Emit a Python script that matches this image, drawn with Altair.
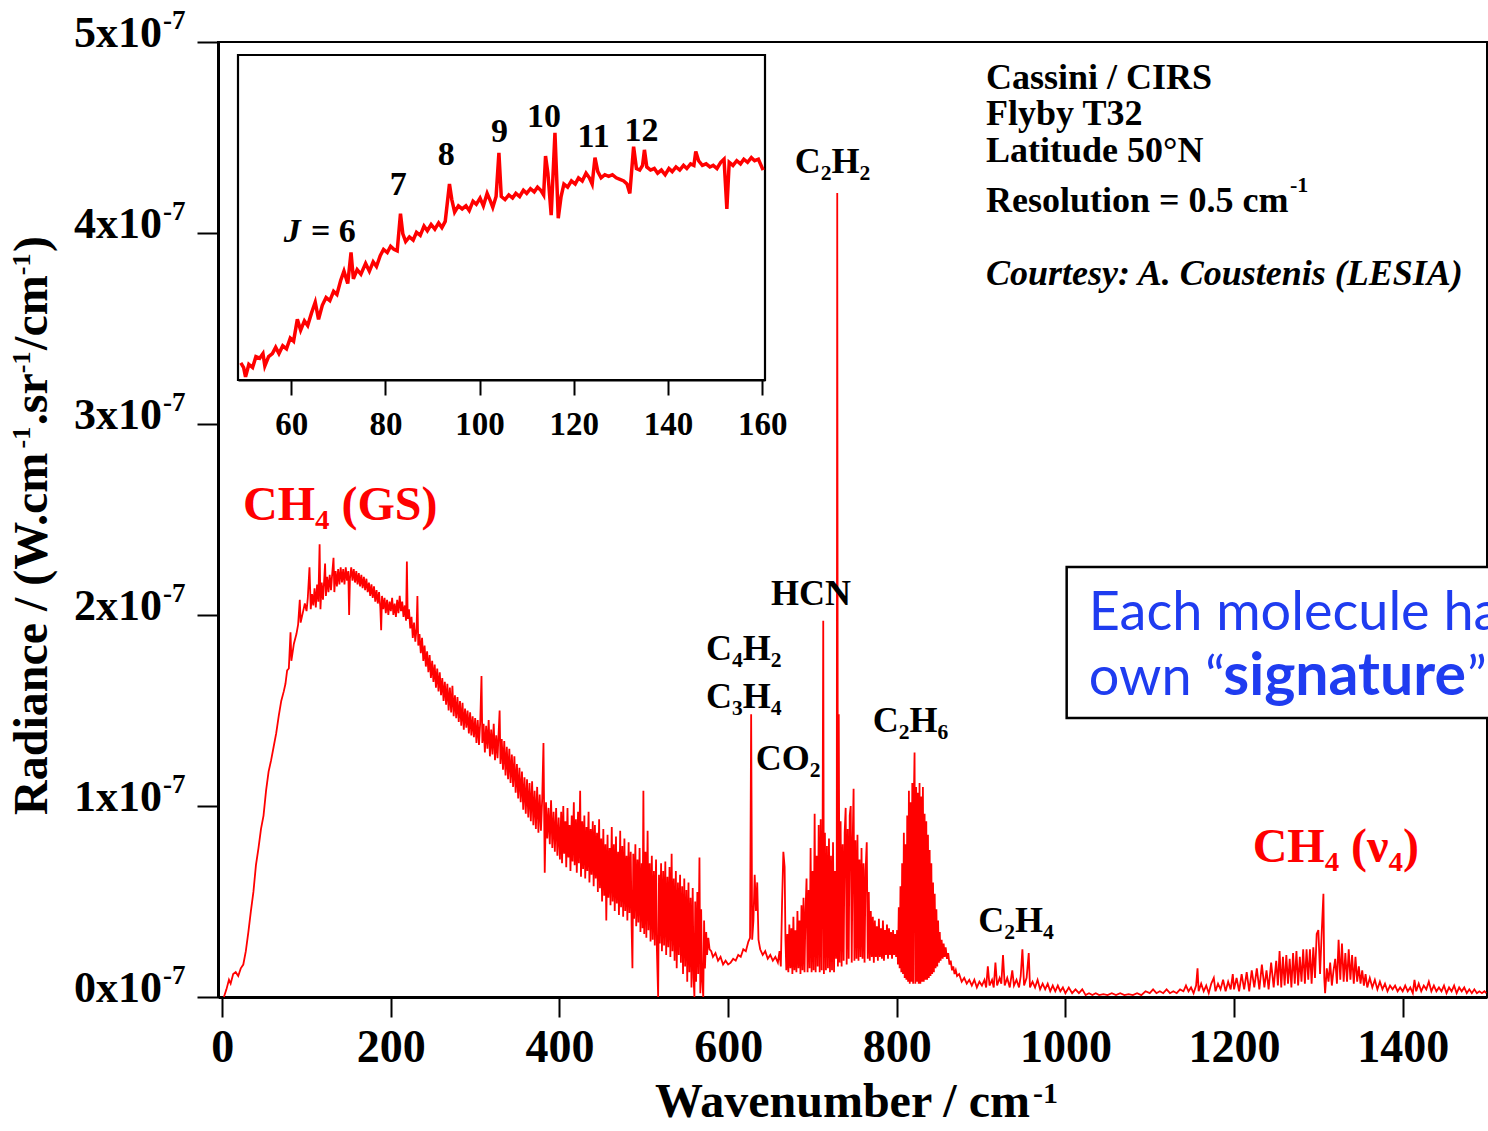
import altair as alt
import pandas as pd

# ---------------- data (wavenumber in cm-1, radiance in units of 1e-7) ----------------
GS_RISE = [(2,0.00),(5,0.04),(8,0.09),(10,0.07),(13,0.12),(16,0.13),(19,0.11),(22,0.15),(25,0.17),
           (28,0.24),(31,0.34),(34,0.45),(37,0.55),(40,0.69),(43,0.78),(46,0.88),(49,0.95),(52,1.08),
           (55,1.18),(58,1.24),(61,1.31),(64,1.38),(67,1.47),(70,1.55),(73,1.60),(75,1.64),(77,1.71),
           (79,1.72),(81,1.91),(82,1.76),(85,1.85),(88,1.90),(90,1.95),(92,2.08),(93,1.96),(96,2.02),(98,2.06)]
GS_PEAK = [(100,2.02),(101.5,2.09),(103.5,2.25),(105,2.03),(106.5,2.11),(108,2.05),(109.5,2.14),(111,2.04),
           (112.5,2.16),(114,2.07),(115.5,2.37),(116.5,2.03),(118,2.17),(119.5,2.08),(121,2.19),(122,2.27),
           (123,2.10),(124.5,2.20),(126,2.12),(127.5,2.21),(129,2.13),(130.5,2.22),(132,2.30),(133,2.12),
           (134.5,2.23),(136,2.15),(137.5,2.24),(139,2.16),(140.5,2.25),(142,2.17),(143.5,2.24),(145,2.16),
           (146.5,2.25),(148,2.18),(149.5,2.23),(150.5,2.00),(151.5,2.19),(153,2.25),(154.5,2.18),(156,2.24),
           (157.5,2.17),(159,2.23),(160.5,2.16),(162,2.22),(163.5,2.15),(165,2.21),(166.5,2.14),(168,2.20),
           (169.5,2.13),(171,2.19),(172.5,2.12),(174,2.17),(175.5,2.10),(177,2.16),(178.5,2.09),(180,2.15),
           (181.5,2.07),(183,2.13),(184.5,2.06),(186,2.12),(187.5,2.04),(188.5,1.92),(189.5,2.10),(191,2.03),
           (192.5,2.09),(194,2.01),(195.5,2.08),(197,2.00),(198.5,2.07),(200,2.02),(201.5,2.09),(203,2.00),
           (204.5,2.06),(206,1.99),(207.5,2.08),(209,2.01),(210.5,2.10),(212,2.02),(213.5,2.07),(215,1.99),
           (216.5,2.05),(218,1.97),(219,2.28),(220,1.98),(221.5,2.03),(223,1.93),(224.5,1.99),(226,1.88),
           (227.5,1.96),(229,1.86),(230.5,1.93),(231.5,2.10),(232.5,1.84),(234,1.90),(235.5,1.80),(237,1.88),
           (238.5,1.76),(240,1.84),(241.5,1.73),(243,1.81),(244.5,1.70),(246,1.79),(247.5,1.67),(249,1.76),
           (250.5,1.65),(252,1.74),(253.5,1.62),(255,1.72),(256.5,1.60),(258,1.70),(259.5,1.58),(261,1.67),
           (262.5,1.55),(264,1.65),(265.5,1.53),(267,1.64),(268.5,1.50),(270,1.62),(271.5,1.49),(273,1.63),
           (274.5,1.47),(276,1.58),(277.5,1.46),(279,1.57),(280.5,1.44),(282,1.55),(283.5,1.42),(285,1.54),
           (286.5,1.40),(288,1.51),(289.5,1.41),(291,1.50),(292.5,1.38),(294,1.49),(295.5,1.37),(297,1.47),
           (298.5,1.36)]
GS_TAIL = [(300,1.46),(301.5,1.33),(303,1.45),(304.5,1.32),(306,1.44),(307.5,1.68),(308.5,1.33),(310,1.43),
           (311.5,1.28),(313,1.42),(314.5,1.30),(316,1.45),(317.5,1.26),(319,1.40),(320.5,1.27),(322,1.43),
           (323.5,1.24),(325,1.37),(326.5,1.25),(328,1.40),(329,1.50),(330,1.22),(331.5,1.35),(333,1.19),
           (334.5,1.34),(336,1.16),(337.5,1.31),(339,1.14),(340.5,1.30),(342,1.12),(343.5,1.27),(345,1.10),
           (346.5,1.26),(348,1.07),(349.5,1.22),(351,1.04),(352.5,1.20),(354,1.02),(355.5,1.18),(357,0.98),
           (358.5,1.15),(360,0.96),(361.5,1.14),(363,0.94),(364.5,1.12),(366,0.92),(367.5,1.13),(369,0.90),
           (370.5,1.08),(372,0.88),(373.5,1.10),(375,0.86),(376.5,1.06),(378,0.87),(379.5,1.04),(381,1.33),
           (382.5,0.65),(384,1.02),(385.5,0.83),(387,0.99),(388.5,0.80),(390,1.03),(391.5,0.78),(393,0.97),
           (394.5,0.76),(396,0.99),(397.5,0.74),(399,0.94)]
NOISY = [(400.5,0.72),(402,0.97),(403,0.70),(404.5,1.00),(405.5,0.75),(407,0.92),(408,0.68),(409.5,0.99),
         (410.5,0.73),(412,0.90),(413,0.66),(414.5,0.95),(415.5,0.71),(417,1.02),(418,0.69),(419.5,0.93),
         (420.5,0.65),(422,0.97),(423,0.70),(424.5,1.08),(425.5,0.63),(427,0.92),(428,0.67),(429.5,0.95),
         (430.5,0.62),(432,0.89),(433,0.66),(434.5,0.97),(435.5,0.60),(437,0.88),(438,0.64),(439.5,0.92),
         (440.5,0.58),(442,0.90),(443,0.62),(444.5,0.86),(445.5,0.55),(447,0.93),(448,0.57),(449.5,0.83),
         (450.5,0.50),(452,0.88),(453,0.53),(454.5,0.80),(455.5,0.40),(457,0.85),(458,0.52),(459.5,0.78),
         (460.5,0.48),(462,0.89),(463,0.50),(464.5,0.80),(465.5,0.45),(467,0.84),(468,0.49),(469.5,0.76),
         (470.5,0.43),(472,0.87),(473,0.47),(474.5,0.79),(475.5,0.42),(477,0.83),(478,0.45),(479.5,0.74),
         (480.5,0.40),(482,0.81),(483,0.44),(484.5,0.76),(485.5,0.38),(486.5,0.15),(487.5,0.75),(488.5,0.41),
         (490,0.80),(491,0.37),(492.5,0.72),(493.5,0.39),(495,0.78),(496,0.34),(497.5,0.70),(498.5,0.36),
         (499.5,1.08),(500.5,0.33),(502,0.76),(503,0.31),(504.5,0.87),(505.5,0.35),(507,0.70),(508,0.29),
         (509.5,0.74),(510.5,0.30),(512,0.66),(513,0.27),(514.5,0.72),(515.5,0.25),(517,0.00),(518,0.64),
         (519,0.28),(520.5,0.70),(521.5,0.24),(523,0.66),(524,0.27),(525.5,0.71),(526.5,0.22),(528,0.63),
         (529,0.26),(530.5,0.68),(531.5,0.21),(533,0.75),(534,0.24),(535.5,0.62),(536.5,0.19),(538,0.66),
         (539,0.15),(540.5,0.60),(541.5,0.22),(543,0.64),(544,0.18),(545.5,0.58),(546.5,0.12),(548,0.62),
         (549,0.16),(550.5,0.56),(551.5,0.08),(553,0.60),(554,0.13),(555.5,0.52),(556.5,0.05),(558,0.57),
         (559,0.10),(560,0.00),(561,0.50),(562,0.08),(563.5,0.55),(564.5,0.12),(566,0.73),(567,0.02),
         (568,0.46),(569,0.10),(570.5,0.00),(571.5,0.40),(572.5,0.15),(574,0.34),(575,0.22),(576.5,0.31),
         (578,0.25)]
C4H2_REGION = [(580,0.24),(582,0.21),(585,0.23),(588,0.19),(591,0.21),(594,0.17),(597,0.19),(600,0.17),
               (603,0.18),(606,0.20),(609,0.19),(612,0.22),(615,0.21),(618,0.25),(621,0.24),(624,0.29),
               (626,0.31),(627.3,1.48),(628.5,0.30),(630,0.40),(631.5,0.64),(633,0.45),(634.5,0.60),
               (636,0.30),(638,0.25),(641,0.22),(644,0.24),(647,0.20),(650,0.22),(653,0.19),(656,0.21),
               (659,0.18),(661,0.24),(662.5,0.16)]
HCN_REGION = [(664,0.50),(665.5,0.76),(667,0.68),(668,0.30),(669,0.14),(670.2,0.33),(671.4,0.13),
              (672.6,0.38),(673.8,0.15),(675,0.36),(676.2,0.12),(677.4,0.42),(678.6,0.14),(679.8,0.35),
              (681,0.13),(682.2,0.45),(683.4,0.15),(684.6,0.40),(685.8,0.12),(687,0.48),(688.2,0.14),
              (689.4,0.52),(690.6,0.13),(691.8,0.45),(693,0.62),(694.2,0.13),(695.4,0.56),(696.6,0.15),
              (697.8,0.78),(699,0.13),(700.2,0.66),(701.4,0.14),(702.6,0.96),(703.8,0.13),(705,0.74),
              (706.2,0.16),(707.4,0.90),(708.6,0.13),(709.8,0.93),(711,0.14),(712,0.78),(712.8,1.97),
              (713.6,0.12),(714.8,0.86),(716,0.14),(717.2,0.79),(718.4,0.15),(719.6,0.83),(720.8,0.13),
              (722,0.74),(723.2,0.14),(724.4,0.81),(725.6,0.13),(726.8,0.66),(728,0.20),(728.8,0.50),
              (729.4,4.21),(730.2,0.16),(731.2,1.48),(732.2,0.18),(733.4,0.92),(734.6,0.16),(735.8,0.80),
              (737,0.19),(738.2,0.86),(739.4,0.99),(740.6,0.17),(741.8,0.88),(743,0.20),(744.2,0.95),
              (745.4,1.00),(746.6,0.18),(747.8,0.84),(748.8,1.09),(749.8,0.19),(751,0.82),(752.2,0.20),
              (753.4,0.85),(754.6,0.19),(755.8,0.72),(757,0.21),(758.2,0.78),(759.4,0.20),(760.6,0.70),
              (761.8,0.18),(763,0.66),(764.4,0.81),(765.6,0.20),(766.8,0.55),(768,0.19),(769.2,0.45),
              (770.4,0.21),(771.6,0.42),(772.8,0.18),(774,0.40),(775.2,0.21),(776.4,0.37),(777.6,0.19),
              (778.8,0.41),(780,0.21),(781.2,0.36),(782.4,0.20),(783.6,0.40),(784.8,0.19),(786,0.35),
              (787.2,0.22),(788.4,0.38),(789.6,0.20),(790.8,0.36),(792,0.22),(793.2,0.34),(794.4,0.20),
              (795.6,0.35),(796.8,0.22),(798,0.33),(799.2,0.21)]
C2H6_REGION = [(800.4,0.35),(801.4,0.17),(802.4,0.47),(803.4,0.15),(804.4,0.58),(805.4,0.13),(806.4,0.70),
               (807.4,0.12),(808.4,0.86),(809.4,0.10),(810.4,0.80),(811.4,0.09),(812.4,0.95),(813.4,0.08),
               (814.4,1.08),(815.4,0.07),(816.4,1.02),(817.4,0.08),(818.4,1.12),(819.4,0.07),(820.3,1.05),
               (821.1,1.28),(822,0.07),(823,1.10),(824,0.08),(825,1.07),(826,0.07),(827,1.12),(828,0.07),
               (829,1.05),(830,0.08),(831,1.10),(832,0.08),(833,0.96),(834,0.09),(835,0.92),(836,0.09),
               (837,0.85),(838,0.10),(839,0.77),(840,0.11),(841,0.70),(842,0.12),(843,0.60),(844,0.13),
               (845,0.54),(846,0.15),(847,0.46),(848,0.16),(849,0.40),(850,0.18),(851,0.34),(852,0.19),
               (853.2,0.30),(854.4,0.20),(855.6,0.28),(856.8,0.21),(858,0.26),(859.5,0.20),(861,0.23),
               (862.5,0.17),(864,0.19),(865.5,0.14),(867,0.16),(868.5,0.12),(870,0.14),(871.5,0.11)]
C2H4_REGION = [(874,0.12),(877,0.08),(880,0.10),(883,0.07),(886,0.09),(889,0.06),(892,0.09),(895,0.05),
               (898,0.08),(901,0.06),(904,0.09),(906,0.05),(908,0.16),(910,0.06),(913,0.09),(915,0.05),
               (917,0.18),(919,0.06),(922,0.10),(924,0.07),(926,0.22),(928,0.06),(931,0.10),(934,0.05),
               (937,0.14),(939,0.06),(942,0.09),(945,0.05),(947,0.11),(949,0.25),(951,0.06),(954,0.10),
               (956.5,0.23),(958,0.05),(961,0.08),(964,0.05),(967,0.09),(970,0.04),(973,0.07),(976,0.04),
               (979,0.07),(982,0.03),(985,0.06),(988,0.03),(991,0.06),(994,0.03),(997,0.05),(1000,0.02),
               (1004,0.05),(1008,0.02),(1012,0.04),(1016,0.02),(1020,0.04),(1024,0.01),(1028,0.02),
               (1032,0.01),(1036,0.02),(1040,0.01),(1045,0.015),(1050,0.01),(1055,0.02),(1060,0.01),
               (1065,0.02),(1070,0.01),(1075,0.015),(1080,0.01),(1085,0.02),(1090,0.01),(1095,0.03),
               (1100,0.02),(1104,0.04),(1108,0.02),(1112,0.03),(1116,0.02),(1120,0.04),(1124,0.02),
               (1128,0.03),(1132,0.02),(1136,0.04),(1140,0.03)]
CH4_V4_REGION = [(1143,0.06),(1146,0.03),(1149,0.05),(1152,0.02),(1155,0.06),(1156.7,0.15),(1158,0.03),
                 (1161,0.07),(1164,0.03),(1167,0.06),(1170,0.02),(1173,0.07),(1176,0.10),(1178,0.03),
                 (1181,0.07),(1184,0.04),(1187,0.09),(1190,0.03),(1193,0.08),(1196,0.04),(1198.5,0.12),
                 (1200,0.04),(1203,0.10),(1206,0.03),(1209,0.12),(1212,0.04),(1215,0.13),(1218,0.03),
                 (1221,0.14),(1224,0.05),(1227,0.15),(1230,0.04),(1233,0.17),(1236,0.05),(1238.5,0.14),
                 (1241,0.04),(1244,0.18),(1247,0.05),(1250,0.19),(1252,0.06),(1254,0.24),(1256,0.05),
                 (1258,0.21),(1260,0.06),(1262,0.22),(1264,0.07),(1266,0.20),(1268,0.05),(1270,0.23),
                 (1272,0.07),(1274,0.24),(1276,0.06),(1278,0.21),(1280,0.08),(1282,0.25),(1284,0.07),
                 (1286,0.25),(1288,0.09),(1290,0.25),(1292,0.07),(1294,0.26),(1296,0.10),(1298,0.33),
                 (1300,0.35),(1302,0.12),(1304,0.34),(1306,0.54),(1307,0.10),(1308,0.02),(1310,0.15),
                 (1312,0.08),(1314,0.18),(1316,0.06),(1318,0.14),(1320,0.20),(1322,0.07),(1324,0.30),
                 (1326,0.09),(1328,0.28),(1330,0.08),(1332,0.23),(1334,0.08),(1336,0.25),(1338,0.09),
                 (1340,0.22),(1342,0.07),(1344,0.21),(1346,0.08),(1348,0.16),(1350,0.07),(1352,0.14),
                 (1354,0.06),(1356,0.12),(1358,0.05),(1361,0.10),(1364,0.05),(1367,0.09),(1370,0.04),
                 (1373,0.08),(1376,0.04),(1379,0.07),(1382,0.03),(1385,0.06),(1388,0.04),(1391,0.06),
                 (1394,0.03),(1397,0.05),(1400,0.03),(1403,0.06),(1406,0.03),(1409,0.05),(1412,0.02),
                 (1414,0.09),(1416,0.03),(1419,0.07),(1422,0.03),(1425,0.06),(1428,0.04),(1431,0.08),
                 (1434,0.03),(1437,0.06),(1440,0.03),(1443,0.05),(1446,0.03),(1449,0.06),(1452,0.02),
                 (1455,0.05),(1458,0.03),(1461,0.06),(1464,0.02),(1467,0.05),(1470,0.03),(1473,0.05),
                 (1476,0.02),(1479,0.04),(1482,0.02),(1485,0.04),(1488,0.02),(1491,0.03),(1494,0.02),
                 (1497,0.03),(1499,0.02)]

INSET = [(49.3,0.93),(49.9,0.90),(50.3,0.84),(51.0,0.92),(51.8,0.90),(52.5,0.97),(53.3,0.96),(54.0,0.99),
         (54.4,0.91),(55.2,0.97),(56.0,0.99),(56.7,1.03),(57.4,0.99),(58.2,1.04),(59.0,1.02),(59.8,1.09),
         (60.5,1.07),(61.3,1.21),(62.0,1.14),(62.8,1.20),(63.5,1.17),(64.3,1.25),(65.1,1.32),(65.8,1.21),
         (66.6,1.30),(67.4,1.35),(68.2,1.33),(69.0,1.39),(69.7,1.37),(70.5,1.46),(71.2,1.52),(72.0,1.44),
         (72.7,1.64),(73.2,1.47),(74.0,1.53),(74.8,1.50),(75.8,1.57),(76.6,1.52),(77.4,1.58),(78.1,1.55),
         (78.9,1.62),(79.6,1.66),(80.4,1.64),(81.1,1.68),(81.8,1.66),(82.5,1.65),(83.2,1.89),(83.7,1.76),
         (84.3,1.71),(85.1,1.74),(85.9,1.72),(86.6,1.77),(87.4,1.75),(88.2,1.81),(88.9,1.78),(89.7,1.82),
         (90.5,1.79),(91.3,1.83),(92.0,1.80),(92.7,1.84),(93.6,2.08),(94.1,1.98),(94.7,1.90),(95.5,1.94),
         (96.3,1.92),(97.1,1.94),(97.8,1.91),(98.6,1.97),(99.3,1.95),(100.1,1.99),(100.8,1.94),(101.6,2.02),
         (102.3,1.97),(102.8,1.93),(103.5,2.00),(104.1,2.28),(104.6,2.00),(105.4,1.98),(106.2,2.01),
         (107.0,1.99),(107.7,2.02),(108.5,2.00),(109.3,2.04),(110.0,2.02),(110.8,2.05),(111.6,2.03),
         (112.3,2.06),(113.0,2.04),(113.6,2.01),(114.0,2.26),(114.5,2.15),(115.2,1.88),(116.0,2.41),
         (116.7,1.86),(117.3,2.00),(117.9,2.08),(118.7,2.06),(119.5,2.10),(120.3,2.08),(121.0,2.12),
         (121.8,2.10),(122.6,2.15),(123.3,2.12),(123.9,2.08),(124.5,2.25),(125.1,2.16),(125.8,2.12),
         (126.6,2.14),(127.4,2.13),(128.2,2.14),(129.0,2.12),(129.8,2.11),(130.6,2.10),(131.3,2.08),
         (131.9,2.02),(132.7,2.32),(133.3,2.18),(134.0,2.17),(134.6,2.20),(135.0,2.30),(135.5,2.19),
         (136.3,2.17),(137.1,2.18),(137.8,2.15),(138.6,2.17),(139.4,2.14),(140.2,2.18),(140.9,2.16),
         (141.7,2.19),(142.5,2.17),(143.3,2.20),(144.0,2.18),(144.8,2.21),(145.5,2.20),(145.9,2.29),
         (146.5,2.23),(147.3,2.20),(148.1,2.21),(148.9,2.19),(149.6,2.20),(150.4,2.18),(151.2,2.22),
         (151.9,2.24),(152.5,1.92),(153.0,2.22),(153.8,2.20),(154.6,2.23),(155.4,2.21),(156.1,2.24),
         (156.9,2.22),(157.7,2.25),(158.4,2.23),(159.2,2.24),(160.2,2.17)]

X_DOMAIN = [-5, 1500]
Y_DOMAIN = [0, 5]
X_TICKS = [0, 200, 400, 600, 800, 1000, 1200, 1400]
Y_TICKS = [0, 1, 2, 3, 4, 5]
Y_TICK_TEXT = ["0x10", "1x10", "2x10", "3x10", "4x10", "5x10"]
Y_TICK_EXP = "-7"

# y-axis title pieces (text, is_superscript, start position along the axis in radiance units)
Y_TITLE_PARTS = ["Radiance / (W.cm", "-1", ".sr", "-1", "/cm", "-1", ")"]
Y_TITLE_SUP = [False, True, False, True, False, True, False]
Y_TITLE_START = [0.953, 2.872, 2.994, 3.266, 3.388, 3.779, 3.901]

INSET_X_DOMAIN = [48.7, 160.6]
INSET_Y_DOMAIN = [0.82, 2.91]
INSET_X_TICKS = [60, 80, 100, 120, 140, 160]
INSET_J_LABELS = ["7", "8", "9", "10", "11", "12"]
INSET_J_X = [82.7, 92.9, 104.2, 113.7, 124.2, 134.4]
INSET_J_Y = [2.01, 2.20, 2.35, 2.45, 2.32, 2.36]

MOLECULES = ["C₂H₂", "HCN", "C₄H₂", "C₃H₄", "CO₂", "C₂H₆", "C₂H₄"]
MOL_X = [679.1, 650.9, 573.8, 573.8, 632.7, 771.5, 896.7]
MOL_Y = [4.314, 2.052, 1.764, 1.513, 1.188, 1.389, 0.342]
CH4_LABELS = ["CH₄ (GS)", "CH₄ (ν₄)"]
CH4_X = [24.7, 1222.1]
CH4_Y = [2.497, 0.708]
INFO_LINES = ["Cassini / CIRS", "Flyby T32", "Latitude 50°N", "Resolution = 0.5 cm"]
INFO_Y = [4.752, 4.565, 4.373, 4.111]
INFO_X = 905.9
COURTESY = "Courtesy: A. Coustenis (LESIA)"
COURTESY_Y = 3.728

SERIF = "Liberation Serif"
RED = "#ff0000"
BLUE = "#1f3cf0"

# ---------------- main panel ----------------
spectrum = pd.DataFrame(GS_RISE + GS_PEAK + GS_TAIL + NOISY + C4H2_REGION + HCN_REGION +
                        C2H6_REGION + C2H4_REGION + CH4_V4_REGION, columns=["x", "y"])

xs = alt.Scale(domain=X_DOMAIN, nice=False, zero=False)
ys = alt.Scale(domain=Y_DOMAIN, nice=False, zero=False)
xaxis = alt.Axis(values=X_TICKS, format="d", tickSize=20, tickWidth=2, tickColor="black", domainWidth=3,
                 domainColor="black", labelFont=SERIF, labelFontWeight="bold", labelFontSize=46,
                 labelColor="black", labelPadding=8, labelFlush=False, labelOverlap=False,
                 grid=False, title=None)
yaxis = alt.Axis(values=Y_TICKS, tickSize=21, tickWidth=2, tickColor="black", domainWidth=3,
                 domainColor="black", labels=False, grid=False, title=None)
X = alt.X("x:Q", scale=xs, axis=xaxis)
Y = alt.Y("y:Q", scale=ys, axis=yaxis)


def text_layer(xv, yv, labels, **kw):
    df = pd.DataFrame({"x": xv, "y": yv, "label": labels})
    return alt.Chart(df).mark_text(**kw).encode(x=X, y=Y, text="label:N")


box_df = pd.DataFrame({"x": [1001.5], "x2": [1700], "y": [1.461], "y2": [2.251]})
sig_box = alt.Chart(box_df).mark_rect(fill="white", stroke="black", strokeWidth=2.5).encode(
    x=X, x2="x2", y=Y, y2="y2")

line = alt.Chart(spectrum).mark_line(color=RED, strokeWidth=1.8, interpolate="linear").encode(x=X, y=Y)

layers = [sig_box, line]
# y tick labels
layers.append(text_layer([-71.4] * 6, Y_TICKS, Y_TICK_TEXT, align="right", baseline="alphabetic",
                         dy=5, font=SERIF, fontWeight="bold", fontSize=44, color="black"))
layers.append(text_layer([-70.2] * 6, Y_TICKS, [Y_TICK_EXP] * 6, align="left", baseline="alphabetic",
                         dy=-13, font=SERIF, fontWeight="bold", fontSize=27, color="black"))
# x axis title
layers.append(text_layer([958.0], [-0.628], ["Wavenumber / cm"], align="right", baseline="alphabetic",
                         font=SERIF, fontWeight="bold", fontSize=48, color="black"))
layers.append(text_layer([961.6], [-0.555], ["-1"], align="left", baseline="alphabetic",
                         font=SERIF, fontWeight="bold", fontSize=30, color="black"))
# y axis title (rotated, built from normal + superscript pieces)
main_parts = [p for p, s in zip(Y_TITLE_PARTS, Y_TITLE_SUP) if not s]
main_pos = [y for y, s in zip(Y_TITLE_START, Y_TITLE_SUP) if not s]
sup_parts = [p for p, s in zip(Y_TITLE_PARTS, Y_TITLE_SUP) if s]
sup_pos = [y for y, s in zip(Y_TITLE_START, Y_TITLE_SUP) if s]
layers.append(text_layer([-207.8] * len(main_parts), main_pos, main_parts, align="left",
                         baseline="alphabetic", angle=270, font=SERIF, fontWeight="bold",
                         fontSize=48, color="black"))
layers.append(text_layer([-227.9] * len(sup_parts), sup_pos, sup_parts, align="left",
                         baseline="alphabetic", angle=270, font=SERIF, fontWeight="bold",
                         fontSize=26, color="black"))
# molecule labels
layers.append(text_layer(MOL_X, MOL_Y, MOLECULES, align="left", baseline="alphabetic",
                         font=SERIF, fontWeight="bold", fontSize=36, color="black"))
layers.append(text_layer(CH4_X, CH4_Y, CH4_LABELS, align="left", baseline="alphabetic",
                         font=SERIF, fontWeight="bold", fontSize=48, color=RED))
# info block
layers.append(text_layer([INFO_X] * 4, INFO_Y, INFO_LINES, align="left", baseline="alphabetic",
                         font=SERIF, fontWeight="bold", fontSize=36, color="black"))
layers.append(text_layer([1266.4], [4.216], ["-1"], align="left", baseline="alphabetic",
                         font=SERIF, fontWeight="bold", fontSize=22, color="black"))
layers.append(text_layer([INFO_X], [COURTESY_Y], [COURTESY], align="left", baseline="alphabetic",
                         font=SERIF, fontWeight="bold", fontStyle="italic", fontSize=36, color="black"))
# signature box text
layers.append(text_layer([1027.7, 1027.7], [1.921, 1.581], ["Each molecule has its", "own “"],
                         align="left", baseline="alphabetic", font="Lato", fontSize=54, color=BLUE))
layers.append(text_layer([1475.1], [1.581], ["signature"], align="right", baseline="alphabetic",
                         font="Lato", fontWeight="bold", fontSize=59, color=BLUE))
layers.append(text_layer([1476.3], [1.581], ["”"], align="left", baseline="alphabetic",
                         font="Lato", fontSize=54, color=BLUE))

main = alt.layer(*layers)

# ---------------- inset panel ----------------
ixs = alt.Scale(domain=INSET_X_DOMAIN, range=[20, 547], nice=False, zero=False)
iys = alt.Scale(domain=INSET_Y_DOMAIN, range=[338, 13], nice=False, zero=False)
iaxis = alt.Axis(orient="bottom", offset=-617, values=INSET_X_TICKS, tickSize=15, tickWidth=2,
                 tickColor="black", domainWidth=2, domainColor="black", labelFont=SERIF,
                 labelFontWeight="bold", labelFontSize=33, labelColor="black", labelPadding=13,
                 labelFlush=False, labelOverlap=False, grid=False, title=None)
IX = alt.X("x:Q", scale=ixs, axis=iaxis)
IY = alt.Y("y:Q", scale=iys, axis=None)

ibox_df = pd.DataFrame({"x": [INSET_X_DOMAIN[0]], "x2": [INSET_X_DOMAIN[1]],
                        "y": [INSET_Y_DOMAIN[0]], "y2": [INSET_Y_DOMAIN[1]]})
ibox = alt.Chart(ibox_df).mark_rect(fill="white", stroke="black", strokeWidth=2.2).encode(
    x=IX, x2="x2", y=IY, y2="y2")
iline = alt.Chart(pd.DataFrame(INSET, columns=["x", "y"])).mark_line(
    color=RED, strokeWidth=3.5).encode(x=IX, y=IY)


def itext(xv, yv, labels, **kw):
    df = pd.DataFrame({"x": xv, "y": yv, "label": labels})
    return alt.Chart(df).mark_text(**kw).encode(x=IX, y=IY, text="label:N")


inset = alt.layer(
    ibox, iline,
    itext(INSET_J_X, INSET_J_Y, INSET_J_LABELS, align="center", baseline="alphabetic",
          font=SERIF, fontWeight="bold", fontSize=34, color="black"),
    itext([58.4], [1.709], ["J"], align="left", baseline="alphabetic", font=SERIF,
          fontWeight="bold", fontStyle="italic", fontSize=34, color="black"),
    itext([64.2], [1.709], ["= 6"], align="left", baseline="alphabetic", font=SERIF,
          fontWeight="bold", fontSize=34, color="black"),
)

chart = alt.layer(main, inset).resolve_scale(x="independent", y="independent").properties(
    width=1269, height=955,
    padding={"left": 218, "top": 42, "right": 1, "bottom": 134},
    autosize=alt.AutoSizeParams(type="none"),
    background="white",
).configure_view(stroke="black", strokeWidth=2)

chart.save("out.html", embed_options={"renderer": "svg", "actions": False})
